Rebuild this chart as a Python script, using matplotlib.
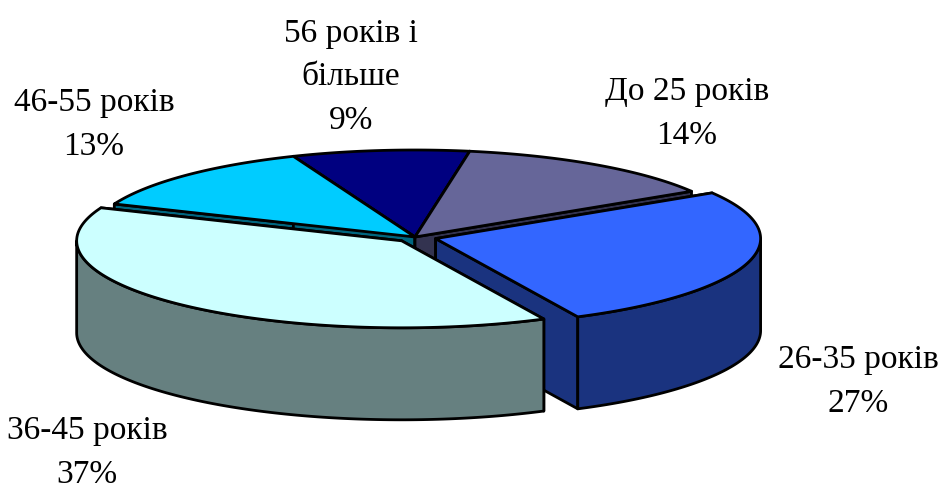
# 3d looking exploded pie, age groups
import numpy as np
import matplotlib.pyplot as plt
from matplotlib.patches import Polygon

labels = ['До 25 років', '26-35 років', '36-45 років', '46-55 років', '56 років і\nбільше']
percents = [14, 27, 37, 13, 9]  # as printed
shares = [13.5, 26.6, 38.4, 12.7, 8.8]  # slice sizes as drawn, perspective changes them a bit
top_colors = ['#666699', '#3366FF', '#CCFFFF', '#00CCFF', '#000080']
side_colors = ['#333350', '#1A337F', '#668080', '#00667F', '#000040']
explode = [0, 0.066, 0.06, 0, 0]
label_pos = [(687, 114), (858, 382), (87, 453), (94, 125), (351, 77)]

cx, cy = 415, 237
rx, ry = 325, 87
depth = 92
start = 9.7

plt.rcParams['font.family'] = ['Liberation Serif', 'DejaVu Serif']

fig = plt.figure(figsize=(9.4, 4.86), dpi=100)
ax = fig.add_axes([0, 0, 1, 1])
ax.set_xlim(0, 940)
ax.set_ylim(486, 0)
ax.axis('off')

# angles are clockwise from the top
edges = start + np.cumsum([0] + shares) * 3.6


def rim(x0, y0, a, b):
    t = np.radians(np.linspace(a, b, 120))
    return np.column_stack([x0 + rx * np.sin(t), y0 - ry * np.cos(t)])


def draw_slice(i):
    a, b = edges[i], edges[i + 1]
    mid = np.radians((a + b) / 2)
    x0 = cx + explode[i] * rx * np.sin(mid)
    y0 = cy - explode[i] * ry * np.cos(mid)
    pts = rim(x0, y0, a, b)
    apex = np.array([x0, y0])
    down = np.array([0, depth])
    style = dict(edgecolor='black', linewidth=2, joinstyle='round')
    # the two cut faces
    for p in (pts[0], pts[-1]):
        ax.add_patch(Polygon([apex, p, p + down, apex + down], facecolor=side_colors[i], **style))
    # outer wall, only the part turned to the front
    lo, hi = max(a, 90), min(b, 270)
    if hi > lo:
        w = rim(x0, y0, lo, hi)
        ax.add_patch(Polygon(np.vstack([w, (w + down)[::-1]]), facecolor=side_colors[i], **style))
    ax.add_patch(Polygon(np.vstack([apex, pts]), facecolor=top_colors[i], **style))


for i in [4, 3, 0, 1, 2]:
    draw_slice(i)

for name, v, (x, y) in zip(labels, percents, label_pos):
    ax.text(x, y, f'{name}\n{v}%', ha='center', va='center', fontsize=24, color='black', linespacing=1.56)

fig.savefig('out.png', dpi=100)
